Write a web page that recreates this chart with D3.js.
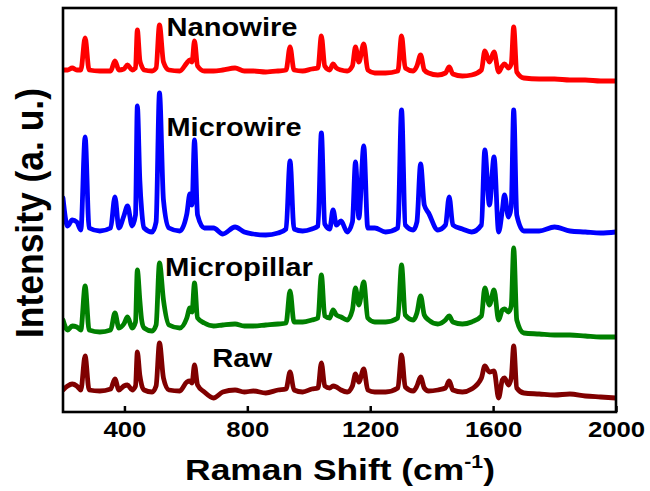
<!DOCTYPE html>
<html>
<head>
<meta charset="utf-8">
<script src="https://cdn.jsdelivr.net/npm/d3@7"></script>
<style>
  body { margin: 0; background: #fff; }
  svg text { font-family: "Liberation Sans", Arial, sans-serif; font-weight: bold; fill: #000; }
</style>
</head>
<body>
<svg width="650" height="491"></svg>
<script>
// Raman shift sample points (cm-1), shared by every spectrum
var shift = [200,215,230,245,258,272,285,320,355,369,382,398,410,425,436,442,450,456,464,490,
  503,514,527,545,580,603,613,620,628,638,660,690,720,760,790,820,860,900,926,939,
  952,980,1010,1030,1041,1052,1068,1079,1090,1105,1125,1142,1152,1163,1179,1192,1215,1250,1290,1302,
  1314,1340,1352,1364,1376,1390,1420,1445,1457,1469,1500,1530,1562,1573,1588,1603,1618,1630,1637,1650,
  1659,1667,1677,1700,1750,1800,1850,1900,1950,2000];

// intensities (a. u.), already offset for stacking
var nanowire = [342,342,344,342,342,374,342,341,341,351,342,343,347,342,344,382,352,346,342,341,
  344,387,350,342,341,349,352,350,371,346,341,341,342,344,341,341,340,341,342,365,
  342,341,343,344,376,346,342,348,344,342,341,346,365,350,368,342,339,339,341,376,
  344,341,346,357,342,339,337,339,345,338,336,337,342,361,350,360,340,346,348,344,
  348,385,340,334,333,333,332,332,331,331];

var microwire = [214,186,192,190,182,275,184,181,184,215,184,196,206,186,197,306,232,202,184,180,
  190,319,212,184,181,198,218,207,272,197,184,184,178,185,180,178,177,179,183,251,
  183,181,183,186,279,188,183,202,187,191,180,190,250,194,266,184,184,180,184,302,
  187,182,190,248,207,199,182,187,215,187,183,180,187,262,207,255,180,202,217,195,
  205,302,197,181,181,185,181,180,179,180];

var micropillar = [92,82,86,85,82,126,82,80,82,99,84,88,95,84,90,142,112,92,84,81,
  87,149,112,87,84,94,104,100,129,94,89,86,87,88,86,86,87,88,89,121,
  90,90,92,94,137,96,94,102,97,95,92,102,124,107,130,94,90,90,94,147,
  97,92,99,116,97,92,88,92,96,90,88,90,96,124,107,122,92,102,103,100,
  106,164,92,79,78,77,77,76,75,75];

var raw = [22,26,28,26,22,56,22,21,23,33,22,26,27,22,26,60,37,27,22,20,
  26,69,34,22,21,30,31,29,47,27,20,14,20,22,20,21,19,22,23,40,
  22,20,23,24,49,26,24,26,25,22,20,26,38,30,43,22,20,20,24,57,
  25,21,26,35,24,21,22,24,31,22,20,23,34,46,40,41,14,32,34,27,
  34,66,24,19,18,17,18,16,15,14];

var names = ["Nanowire", "Microwire", "Micropillar", "Raw"];
var colors = ["#ff0000", "#0000ff", "#008000", "#800000"];
var xTicks = [400, 800, 1200, 1600, 2000];

var svg = d3.select("svg");
var margin = {top: 8, right: 34, bottom: 79, left: 63};
var width = 650 - margin.left - margin.right;
var height = 491 - margin.top - margin.bottom;

var x = d3.scaleLinear().domain([200, 2000]).range([margin.left, margin.left + width]);
var y = d3.scaleLinear().domain([0, 404]).range([margin.top + height, margin.top]);

svg.append("clipPath").attr("id", "plot")
  .append("rect")
  .attr("x", margin.left).attr("y", margin.top)
  .attr("width", width).attr("height", height);

var series = [nanowire, microwire, micropillar, raw];
var line = d3.line()
  .x(function(d, i) { return x(shift[i]); })
  .y(function(d) { return y(d); })
  .curve(d3.curveMonotoneX);

svg.append("g").attr("clip-path", "url(#plot)")
  .selectAll("path")
  .data(series.slice().reverse())
  .enter().append("path")
    .attr("d", line)
    .attr("fill", "none")
    .attr("stroke", function(d, i) { return colors[3 - i]; })
    .attr("stroke-width", 4.8)
    .attr("stroke-linejoin", "round")
    .attr("stroke-linecap", "round");

// series labels
var labelPos = [[537, 376], [537, 276], [532, 136], [686, 45]];
var labelLen = [131, 135, 148, 60];
svg.selectAll(".lbl")
  .data(names)
  .enter().append("text")
    .attr("class", "lbl")
    .attr("x", function(d, i) { return x(labelPos[i][0]); })
    .attr("y", function(d, i) { return y(labelPos[i][1]); })
    .attr("font-size", 26)
    .attr("textLength", function(d, i) { return labelLen[i]; })
    .attr("lengthAdjust", "spacingAndGlyphs")
    .text(function(d) { return d; });

// bottom axis, ticks pointing inward
var xAxis = d3.axisBottom(x).tickValues(xTicks)
  .tickFormat(d3.format("d"))
  .tickSizeInner(-6).tickSizeOuter(0).tickPadding(9);
var gx = svg.append("g")
  .attr("transform", "translate(0," + (margin.top + height) + ")")
  .call(xAxis);
gx.select(".domain").remove();
gx.selectAll(".tick line").attr("stroke", "#000").attr("stroke-width", 2.5);
gx.selectAll(".tick text")
  .attr("font-size", 22)
  .attr("font-family", "Liberation Sans, Arial, sans-serif")
  .attr("font-weight", "bold")
  .attr("transform", "scale(1.17,1)");

// frame
svg.append("rect")
  .attr("x", margin.left).attr("y", margin.top)
  .attr("width", width).attr("height", height)
  .attr("fill", "none").attr("stroke", "#000").attr("stroke-width", 2.6);

// axis titles
var xt = svg.append("text")
  .attr("transform", "translate(340,480) scale(1.18,1)")
  .attr("text-anchor", "middle")
  .attr("font-size", 30);
xt.append("tspan").text("Raman Shift (cm");
xt.append("tspan").attr("font-size", 18).attr("dy", -12).text("-1");
xt.append("tspan").attr("dy", 12).text(")");

svg.append("text")
  .attr("transform", "translate(43,213) scale(1.15,1) rotate(-90)")
  .attr("text-anchor", "middle")
  .attr("font-size", 33)
  .attr("textLength", 250)
  .attr("lengthAdjust", "spacingAndGlyphs")
  .text("Intensity (a. u.)");
</script>
</body>
</html>
